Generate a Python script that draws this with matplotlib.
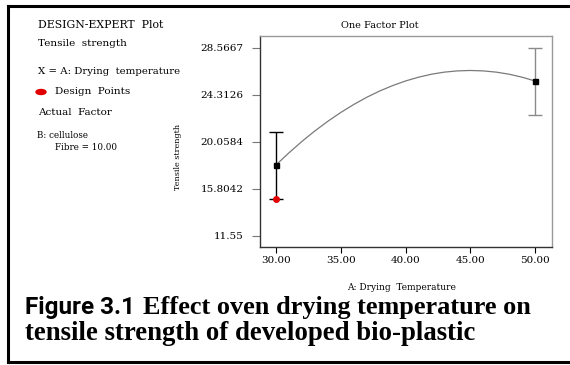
import numpy as np
import matplotlib
matplotlib.use("Agg")
from matplotlib import pyplot as plt
from matplotlib.patches import Ellipse
from matplotlib.lines import Line2D

# Factor levels and model predictions (Tensile strength vs drying temperature)
temp_levels = [30.0, 50.0]
predicted = [17.98, 25.58]
ci_low = [14.93, 22.52]
ci_high = [20.96, 28.54]

# Design points
design_temp = [30.0]
design_strength = [14.93]

# Fitted curve read along the temperature range
curve_temp = [30, 31, 32, 33, 34, 35, 36, 37, 38, 39, 40,
              41, 42, 43, 44, 45, 46, 47, 48, 49, 50]
curve_strength = [17.98, 19.08, 20.11, 21.06, 21.93, 22.73, 23.45, 24.10, 24.67, 25.16, 25.58,
                  25.92, 26.19, 26.38, 26.49, 26.53, 26.49, 26.38, 26.19, 25.92, 25.58]

y_ticks = [11.55, 15.8042, 20.0584, 24.3126, 28.5667]
y_tick_labels = ["11.55", "15.8042", "20.0584", "24.3126", "28.5667"]
x_ticks = [30, 35, 40, 45, 50]
x_tick_labels = ["30.00", "35.00", "40.00", "45.00", "50.00"]

W, H = 570, 365
fig = plt.figure(figsize=(W / 100, H / 100), dpi=100)


def fx(px):
    return px / W


def fy(py):
    return 1 - py / H


serif = "DejaVu Serif"

ax = fig.add_axes([fx(260), fy(247), fx(552) - fx(260), fy(36) - fy(247)])
ax.set_xlim(28.76, 51.31)
ax.set_ylim(10.55, 29.65)

ax.plot(curve_temp, curve_strength, color="#7a7a7a", lw=0.9)

err_colors = ["black", "#8a8a8a"]
for t, p, lo, hi, c in zip(temp_levels, predicted, ci_low, ci_high, err_colors):
    ax.errorbar([t], [p], yerr=[[p - lo], [hi - p]], fmt="none", ecolor=c,
                elinewidth=1.0, capsize=4.8, capthick=1.0)
ax.plot(temp_levels, predicted, "s", color="black", ms=3.6, zorder=5)
ax.plot(design_temp, design_strength, "o", color="#e00000", ms=4, zorder=6)

ax.set_yticks(y_ticks)
ax.set_yticklabels(y_tick_labels, fontfamily=serif, fontsize=7.5)
ax.set_xticks(x_ticks)
ax.set_xticklabels(x_tick_labels, fontfamily=serif, fontsize=7.5)
ax.tick_params(axis="y", length=5.8, width=0.8, color="#777777", pad=6)
ax.tick_params(axis="x", length=4.3, width=0.8, color="black", pad=2.5)

for side in ["left", "bottom"]:
    ax.spines[side].set_color("#333333")
    ax.spines[side].set_linewidth(1.0)
for side in ["top", "right"]:
    ax.spines[side].set_color("#9a9a9a")
    ax.spines[side].set_linewidth(1.0)

# titles and axis labels placed on the figure
fig.text(fx(380), fy(26), "One Factor Plot", family=serif, fontsize=7,
         ha="center", va="center")
fig.text(fx(178), fy(157), "Tensile strength", family=serif, fontsize=5.8,
         rotation=90, ha="center", va="center")
fig.text(fx(401), fy(287), "A: Drying  Temperature", family=serif, fontsize=6.5,
         ha="center", va="center")

# side panel text
side_lines = [
    (38, 25, "DESIGN-EXPERT  Plot", 7.8),
    (38, 44, "Tensile  strength", 7.5),
    (38, 72, "X = A: Drying  temperature", 7.3),
    (55, 92, "Design  Points", 7.5),
    (38, 112, "Actual  Factor", 7.5),
    (37, 136, "B: cellulose", 6.3),
    (55, 148, "Fibre = 10.00", 6.3),
]
for x, y, s, size in side_lines:
    fig.text(fx(x), fy(y), s, family=serif, fontsize=size, ha="left", va="center")
fig.add_artist(Ellipse((fx(41), fy(92)), 10 / W, 5 / H, color="#e00000",
                       transform=fig.transFigure))

# caption, sized to fill its line widths
renderer = fig.canvas.get_renderer()


def fit_text(x, y, s, width, **kw):
    t = fig.text(fx(x), fy(y), s, fontsize=10, ha="left", va="baseline", **kw)
    w = t.get_window_extent(renderer).width
    t.set_fontsize(10 * width / w)
    return t


fit_text(25, 314, "Figure 3.1", 110, family="Roboto", fontweight="bold")
fit_text(143, 314, "Effect oven drying temperature on", 389,
         family="Liberation Serif", fontweight="bold")
fit_text(25, 340, "tensile strength of developed bio-plastic", 452,
         family="Liberation Serif", fontweight="bold")

# outer frame
for xs, ys in [([8, 570], [6, 6]), ([8, 8], [6, 362]), ([8, 570], [362, 362])]:
    fig.add_artist(Line2D([fx(v) for v in xs], [fy(v) for v in ys],
                          color="black", lw=2.2, transform=fig.transFigure))

fig.savefig("out.png", dpi=100)
